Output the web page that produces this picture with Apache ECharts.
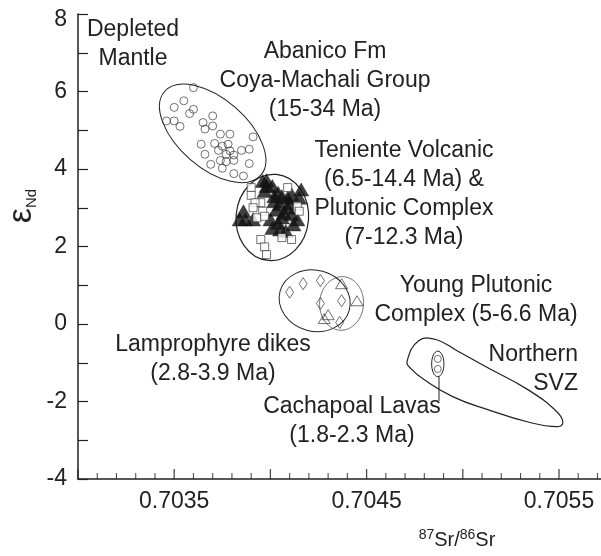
<!DOCTYPE html>
<html>
<head>
<meta charset="utf-8">
<script src="https://cdn.jsdelivr.net/npm/echarts@6/dist/echarts.min.js"></script>
<style>
  html, body { margin: 0; padding: 0; background: #fff; overflow: hidden; }
  #chart { width: 656px; height: 556px; }
</style>
</head>
<body>
<div id="chart"></div>
<script>
// 87Sr/86Sr vs eNd, central Chile
const xLabels = [0.7035, 0.7045, 0.7055];
const xMajorTicks = [0.7030, 0.7035, 0.7040, 0.7045, 0.7050, 0.7055, 0.7060];
const xMinorTicks = [0.7031, 0.7032, 0.7033, 0.7034, 0.7036, 0.7037, 0.7038, 0.7039, 0.7041, 0.7042, 0.7043, 0.7044,
  0.7046, 0.7047, 0.7048, 0.7049, 0.7051, 0.7052, 0.7053, 0.7054, 0.7056, 0.7057, 0.7058, 0.7059];
const yLabels = [8, 6, 4, 2, 0, -2, -4];
const yTickValues = [8, 7, 6, 5, 4, 3, 2, 1, 0, -1, -2, -3, -4];

const abanico = [[0.70360,6.10],[0.70355,5.76],[0.70360,5.54],[0.70358,5.43],[0.70350,5.59],[0.70346,5.24],[0.70350,5.24],[0.70353,5.10],[0.70370,5.37],[0.70365,5.20],[0.70370,5.11],[0.70366,5.03],[0.70374,4.90],[0.70379,4.90],[0.70391,4.83],[0.70364,4.64],[0.70371,4.66],[0.70375,4.59],[0.70378,4.64],[0.70379,4.47],[0.70373,4.48],[0.70377,4.38],[0.70381,4.36],[0.70385,4.48],[0.70389,4.51],[0.70366,4.38],[0.70381,4.22],[0.70374,4.22],[0.70377,4.19],[0.70369,4.12],[0.70375,4.02],[0.70389,4.14],[0.70381,3.88],[0.70386,3.82]];
const tenienteVolc = [[0.70396,3.69],[0.70398,3.56],[0.70401,3.56],[0.70397,3.43],[0.70404,3.39],[0.70406,3.30],[0.70409,3.26],[0.70411,3.35],[0.70415,3.26],[0.70402,3.17],[0.70405,3.09],[0.70409,3.00],[0.70407,2.87],[0.70411,2.83],[0.70414,2.70],[0.70404,2.61],[0.70401,2.48],[0.70405,2.44],[0.70408,2.40],[0.70400,2.70],[0.70386,2.91],[0.70384,2.70],[0.70387,2.70],[0.70391,2.70],[0.70412,2.57],[0.70398,3.71],[0.70416,3.47],[0.70402,3.30],[0.70406,2.75],[0.70403,2.95],[0.70410,3.12]];
const tenientePlut = [[0.70390,3.52],[0.70390,3.32],[0.70395,3.13],[0.70392,3.13],[0.70391,3.00],[0.70396,2.91],[0.70393,2.74],[0.70397,2.78],[0.70409,3.52],[0.70414,3.04],[0.70415,2.91],[0.70406,2.23],[0.70411,2.18],[0.70395,2.18],[0.70397,1.99],[0.70398,1.79]];
const lamprophyre = [[0.70410,0.82],[0.70417,1.04],[0.70426,1.12],[0.70426,0.53],[0.70437,0.60],[0.70436,0.04]];
const youngPlutonic = [[0.70437,1.04],[0.70445,0.60],[0.70430,0.24],[0.70428,0.14]];
const cachapoal = [[0.70487,-0.90],[0.70487,-1.16]];

// field outlines: centre, end of long axis, short/long ratio
const fieldCentres = [[0.70370,4.92],[0.70401,2.75],[0.70423,0.60],[0.70437,0.53],[0.70487,-1.03]];
const fieldAxisEnds = [[0.70395,3.84],[0.70403,3.86],[0.70441,0.36],[0.70438,1.22],[0.70487,-0.70]];
const fieldRatios = [0.54,0.84,0.85,0.82,0.48];
const svzOutline = [[0.70471,-0.97],[0.70477,-0.43],[0.70486,-0.40],[0.70497,-0.69],[0.70513,-1.13],[0.70534,-1.70],[0.70549,-2.27],[0.70552,-2.55],[0.70549,-2.65],[0.70534,-2.53],[0.70513,-2.21],[0.70495,-1.88],[0.70480,-1.44],[0.70473,-1.15]];

const ink = '#222';
const font = "'Liberation Sans', Arial, sans-serif";
const fieldWidths = [1, 1.2, 1, 0.8, 1];
const fieldColors = [ink, ink, ink, '#555', ink];
const yMin = -4;

const chart = echarts.init(document.getElementById('chart'));

function label(text, x, y, align) {
  return {
    type: 'text', z: 100,
    style: { text, x, y, align: align || 'center', verticalAlign: 'top', font: '23px ' + font, lineHeight: 29, fill: ink }
  };
}

// x ticks: thin bar symbols standing on the axis line
function tickMarks(values, len, width) {
  return {
    type: 'scatter', clip: false, silent: true, z: 5,
    data: values.map(v => [v, yMin]),
    symbol: 'rect', symbolSize: [width, len], symbolOffset: [0, -len / 2],
    itemStyle: { color: ink, borderWidth: 0 },
    emphasis: { disabled: true }
  };
}

const option = {
  backgroundColor: '#fff',
  animation: false,
  grid: { left: 78, top: 14, right: 0.8, bottom: 77 },
  xAxis: {
    type: 'value', min: 0.7030, max: 0.7060,
    axisLine: { show: true, onZero: false, lineStyle: { color: ink, width: 1.5 } },
    axisTick: { show: false },
    splitLine: { show: false },
    axisLabel: {
      margin: 11, fontSize: 23, fontFamily: font, color: ink, customValues: xLabels,
      formatter: v => v.toFixed(4)
    }
  },
  yAxis: {
    type: 'value', min: yMin, max: 8,
    axisLine: { show: true, onZero: false, lineStyle: { color: ink, width: 1.5 } },
    axisTick: { show: true, inside: true, length: 10, customValues: yTickValues, lineStyle: { color: ink, width: 1.2 } },
    splitLine: { show: false },
    axisLabel: {
      margin: 11, fontSize: 23, fontFamily: font, color: ink, customValues: yLabels,
      formatter: v => v === 8 ? '{t|8}' : String(v),
      rich: { t: { fontSize: 23, fontFamily: font, color: ink, padding: [12, 0, 0, 0] } }
    }
  },
  graphic: [
    label('Depleted\nMantle', 133, 15),
    label('Abanico Fm\nCoya-Machali Group\n(15-34 Ma)', 325, 37),
    label('Teniente Volcanic\n(6.5-14.4 Ma) &\nPlutonic Complex\n(7-12.3 Ma)', 404, 136),
    label('Young Plutonic\nComplex (5-6.6 Ma)', 476, 271),
    label('Northern\nSVZ', 578, 340, 'right'),
    label('Lamprophyre dikes\n(2.8-3.9 Ma)', 213, 330),
    label('Cachapoal Lavas\n(1.8-2.3 Ma)', 352, 392),
    { type: 'line', z: 100, shape: { x1: 439, y1: 377, x2: 439, y2: 401 }, style: { stroke: ink, lineWidth: 1 } },
    {
      type: 'text', z: 100, x: 22, y: 206, rotation: Math.PI / 2,
      style: {
        text: '{e|\u03b5}{s|Nd}', align: 'center', verticalAlign: 'middle',
        rich: {
          e: { fontSize: 34, fontFamily: font, fill: ink, lineHeight: 34 },
          s: { fontSize: 15, fontFamily: font, fill: ink, lineHeight: 30, verticalAlign: 'bottom' }
        }
      }
    },
    {
      type: 'text', z: 100, x: 457, y: 540,
      style: {
        text: '{p|87}{m|Sr/}{p|86}{m|Sr}', align: 'center', verticalAlign: 'middle',
        rich: {
          p: { fontSize: 14, fontFamily: font, fill: ink, lineHeight: 24, verticalAlign: 'top' },
          m: { fontSize: 20, fontFamily: font, fill: ink, lineHeight: 24 }
        }
      }
    }
  ],
  series: [
    tickMarks(xMajorTicks, 10, 1.3),
    tickMarks(xMinorTicks, 6, 1.1),
    {
      type: 'custom', name: 'fields', clip: false, z: 1,
      data: fieldCentres,
      encode: { x: 0, y: 1 },
      renderItem: (params, api) => {
        const i = params.dataIndex;
        const c = api.coord([api.value(0), api.value(1)]);
        const e = api.coord(fieldAxisEnds[i]);
        const dx = e[0] - c[0], dy = e[1] - c[1];
        const rx = Math.hypot(dx, dy);
        return {
          type: 'ellipse', x: c[0], y: c[1], rotation: -Math.atan2(dy, dx),
          shape: { cx: 0, cy: 0, rx: rx, ry: rx * fieldRatios[i] },
          style: { fill: 'none', stroke: fieldColors[i], lineWidth: fieldWidths[i] }
        };
      }
    },
    {
      type: 'custom', name: 'Northern SVZ', clip: false, z: 1,
      data: [0],
      renderItem: (params, api) => ({
        type: 'polygon',
        shape: { points: svzOutline.map(p => api.coord(p)), smooth: 0.45 },
        style: { fill: 'none', stroke: ink, lineWidth: 1.2 }
      })
    },
    {
      type: 'scatter', name: 'Abanico', data: abanico, symbol: 'circle', symbolSize: 8, z: 3,
      itemStyle: { color: 'rgba(255,255,255,0)', borderColor: ink, borderWidth: 0.8 }
    },
    {
      type: 'scatter', name: 'Teniente Volcanic', data: tenienteVolc, symbol: 'triangle', symbolSize: [15, 13], z: 3,
      itemStyle: { color: '#111', borderColor: '#111', borderWidth: 0.5 }
    },
    {
      type: 'scatter', name: 'Teniente Plutonic', data: tenientePlut, symbol: 'rect', symbolSize: 8, z: 4,
      itemStyle: { color: '#fff', borderColor: ink, borderWidth: 0.8 }
    },
    {
      type: 'scatter', name: 'Lamprophyre', data: lamprophyre, symbol: 'diamond', symbolSize: [8, 12], z: 3,
      itemStyle: { color: 'rgba(255,255,255,0)', borderColor: ink, borderWidth: 0.8 }
    },
    {
      type: 'scatter', name: 'Young Plutonic', data: youngPlutonic, symbol: 'triangle', symbolSize: [12, 10], z: 3,
      itemStyle: { color: 'rgba(255,255,255,0)', borderColor: ink, borderWidth: 0.8 }
    },
    {
      type: 'scatter', name: 'Cachapoal', data: cachapoal, symbol: 'circle', symbolSize: 7, z: 3,
      itemStyle: { color: 'rgba(255,255,255,0)', borderColor: ink, borderWidth: 0.8 }
    }
  ]
};

chart.setOption(option);
</script>
</body>
</html>
